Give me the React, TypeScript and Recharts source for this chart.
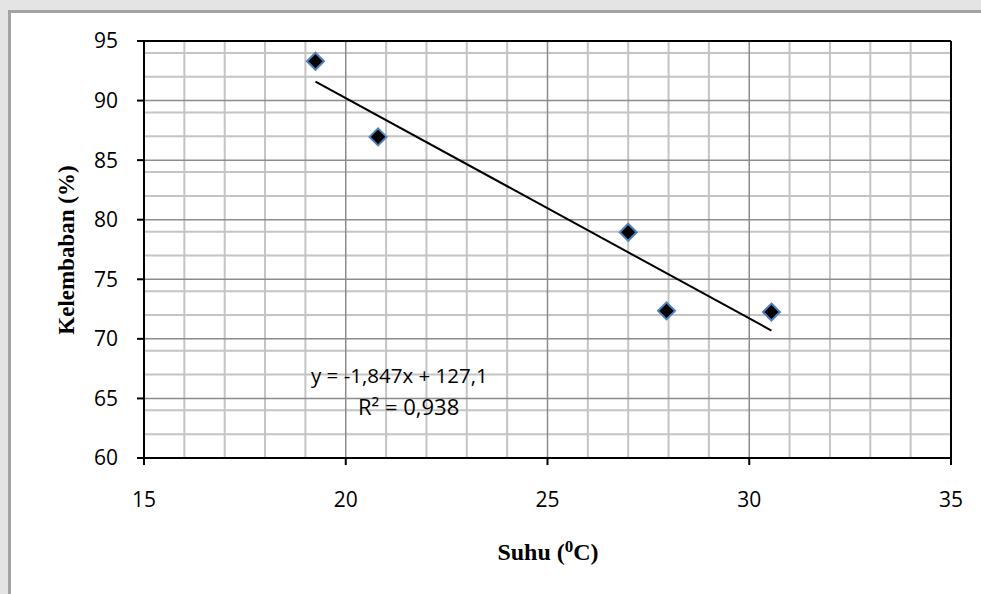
import {
  ScatterChart,
  Scatter,
  XAxis,
  YAxis,
  CartesianGrid,
  ReferenceLine,
} from 'recharts';

// measured points: suhu (°C) vs kelembaban (%)
const suhu = [19.25, 20.8, 27.0, 27.95, 30.55];
const kelembaban = [93.3, 86.95, 78.95, 72.35, 72.25];

// linear trendline endpoints (y = -1,847x + 127,1)
const trendSuhu = [19.25, 30.55];
const trendKelembaban = [91.6, 70.7];

const xTicks = [15, 20, 25, 30, 35];
const yTicks = [60, 65, 70, 75, 80, 85, 90, 95];
const xMinor = [16, 17, 18, 19, 21, 22, 23, 24, 26, 27, 28, 29, 31, 32, 33, 34];
const yMinor = [
  61, 62, 63, 64, 66, 67, 68, 69, 71, 72, 73, 74, 76, 77, 78, 79, 81, 82, 83,
  84, 86, 87, 88, 89, 91, 92, 93, 94,
];

const points = suhu.map((x, i) => ({ x, y: kelembaban[i] }));
const trend = trendSuhu.map((x, i) => ({ x, y: trendKelembaban[i] }));

const tickFont = {
  fontFamily: 'Open Sans',
  fontSize: 21,
  fill: '#000',
  style: { fontSize: 21, fontFamily: 'Open Sans' },
};

function Diamond(props: any) {
  const { cx, cy } = props;
  const r = 8.5;
  return (
    <polygon
      points={`${cx},${cy - r} ${cx + r},${cy} ${cx},${cy + r} ${cx - r},${cy}`}
      fill="#000"
      stroke="#4f81bd"
      strokeWidth={2}
    />
  );
}

export default function App() {
  return (
    <div
      style={{
        position: 'absolute',
        left: 0,
        top: 0,
        width: 981,
        height: 594,
        background: '#e4e4e4',
        overflow: 'hidden',
      }}
    >
      <div
        style={{
          position: 'absolute',
          left: 8,
          top: 10,
          width: 990,
          height: 600,
          background: '#fff',
          borderTop: '3px solid #a3a3a3',
          borderLeft: '3px solid #a3a3a3',
        }}
      />
      <div style={{ position: 'absolute', left: 0, top: 0 }}>
        <ScatterChart
          width={981}
          height={594}
          margin={{ top: 41, right: 30, left: 84, bottom: 96 }}
        >
          <CartesianGrid
            stroke="#c4c4c4"
            strokeWidth={2}
            verticalValues={xMinor}
            horizontalValues={yMinor}
          />
          <CartesianGrid stroke="#8c8c8c" strokeWidth={1.5} />
          <XAxis
            type="number"
            dataKey="x"
            domain={[15, 35]}
            ticks={xTicks}
            height={40}
            fontSize={21}
            tick={tickFont}
            tickSize={7}
            tickMargin={27}
            axisLine={{ stroke: '#000', strokeWidth: 2 }}
            tickLine={{ stroke: '#000', strokeWidth: 2 }}
          />
          <YAxis
            type="number"
            dataKey="y"
            domain={[60, 95]}
            ticks={yTicks}
            width={60}
            fontSize={21}
            tick={tickFont}
            tickSize={7}
            tickMargin={19}
            axisLine={{ stroke: '#000', strokeWidth: 2 }}
            tickLine={{ stroke: '#000', strokeWidth: 2 }}
          />
          <ReferenceLine y={95} stroke="#000" strokeWidth={2} />
          <ReferenceLine x={35} stroke="#000" strokeWidth={2} />
          <Scatter
            data={trend}
            line={{ stroke: '#000', strokeWidth: 2 }}
            shape={() => null}
            isAnimationActive={false}
          />
          <Scatter data={points} shape={Diamond} isAnimationActive={false} />
        </ScatterChart>
      </div>
      <svg
        width={981}
        height={594}
        style={{ position: 'absolute', left: 0, top: 0, pointerEvents: 'none' }}
      >
        <text
          x={66}
          y={250}
          transform="rotate(-90 66 250)"
          textAnchor="middle"
          dominantBaseline="central"
          fontFamily="Liberation Serif"
          fontWeight="bold"
          fontSize={23}
        >
          Kelembaban (%)
        </text>
        <text
          x={548}
          y={560}
          textAnchor="middle"
          fontFamily="Liberation Serif"
          fontWeight="bold"
          fontSize={24}
        >
          Suhu (<tspan dy={-8} fontSize={17}>0</tspan>
          <tspan dy={8}>C)</tspan>
        </text>
        <text x={311} y={383} fontFamily="Open Sans" fontSize={20.5}>
          y = -1,847x + 127,1
        </text>
        <text x={358} y={415} fontFamily="Open Sans" fontSize={22}>
          R² = 0,938
        </text>
      </svg>
    </div>
  );
}
